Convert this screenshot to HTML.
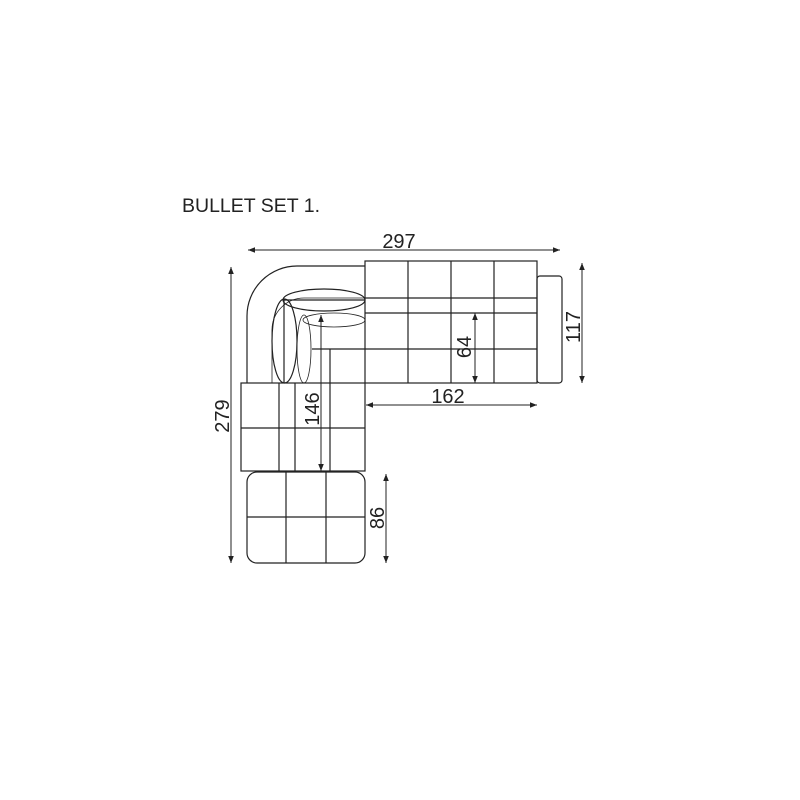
<!DOCTYPE html>
<html><head><style>body{margin:0;background:#fff}svg{display:block}</style></head><body>
<svg width="800" height="800" viewBox="0 0 800 800" xmlns="http://www.w3.org/2000/svg">
<defs>
<marker id="a" viewBox="0 0 10 10" refX="10" refY="5" markerWidth="7" markerHeight="7" orient="auto-start-reverse"><path d="M0,1 L10,5 L0,9 z" fill="#222"/></marker>
</defs>
<g fill="none" stroke="#222" stroke-width="1.2">
<rect x="365" y="261" width="172" height="122"/>
<line x1="408" y1="261" x2="408" y2="383"/><line x1="451" y1="261" x2="451" y2="383"/><line x1="494" y1="261" x2="494" y2="383"/>
<line x1="365" y1="298" x2="537" y2="298"/><line x1="365" y1="313" x2="537" y2="313"/><line x1="312" y1="349" x2="537" y2="349"/>
<rect x="537" y="276" width="25" height="107" rx="3"/>
<path d="M247,383 L247,316 A50,50 0 0 1 297,266 L365,266"/>
<path d="M272,383 L272,330 A32,32 0 0 1 304,298 L365,298" stroke-width="0.8"/>
<ellipse cx="324" cy="300" rx="41" ry="11"/>
<ellipse cx="284.5" cy="341" rx="12.5" ry="42"/>
<line x1="283" y1="300" x2="365" y2="300"/>
<line x1="284" y1="300" x2="284" y2="383"/>
<ellipse cx="334" cy="320" rx="31" ry="7" stroke-width="0.8"/>
<ellipse cx="304" cy="349" rx="7" ry="34" stroke-width="0.8"/>
<line x1="330" y1="349" x2="330" y2="383"/>
<rect x="241" y="383" width="124" height="88"/>
<line x1="241" y1="428" x2="365" y2="428"/>
<line x1="279" y1="383" x2="279" y2="471"/><line x1="295" y1="383" x2="295" y2="471"/><line x1="330" y1="383" x2="330" y2="471"/>
<rect x="247" y="472" width="118" height="91" rx="10"/>
<line x1="286" y1="472" x2="286" y2="563"/><line x1="326" y1="472" x2="326" y2="563"/><line x1="247" y1="517" x2="365" y2="517"/>
</g>
<g stroke="#222" stroke-width="1" marker-start="url(#a)" marker-end="url(#a)">
<line x1="248" y1="250" x2="560" y2="250"/>
<line x1="231" y1="267" x2="231" y2="563"/>
<line x1="582" y1="263" x2="582" y2="383"/>
<line x1="475" y1="313" x2="475" y2="383"/>
<line x1="366" y1="405" x2="537" y2="405"/>
<line x1="321" y1="315" x2="321" y2="471"/>
<line x1="386" y1="474" x2="386" y2="563"/>
</g>
<g font-family="Liberation Sans, sans-serif" fill="#222" font-size="20">
<text x="182" y="212" font-size="19.5">BULLET SET 1.</text>
<text x="399" y="248" text-anchor="middle">297</text>
<text x="448" y="403" text-anchor="middle">162</text>
<text transform="translate(229,416) rotate(-90)" text-anchor="middle">279</text>
<text transform="translate(580,327) rotate(-90)" text-anchor="middle">117</text>
<text transform="translate(471,347) rotate(-90)" text-anchor="middle">64</text>
<text transform="translate(319,409) rotate(-90)" text-anchor="middle">146</text>
<text transform="translate(384,518) rotate(-90)" text-anchor="middle">86</text>
</g>
</svg>
</body></html>
